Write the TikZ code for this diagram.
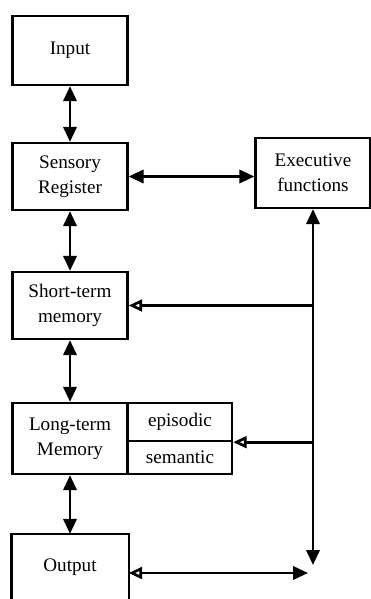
\documentclass[tikz,border=0pt]{standalone}
\usepackage{fontspec}
\setmainfont{Liberation Serif}
\usetikzlibrary{positioning, calc, arrows.meta}

\begin{document}
\begin{tikzpicture}[x=0.6pt, y=-0.6pt, font=\fontsize{11.5}{15}\selectfont,
    stage/.style={draw, line width=1.4pt, minimum width=69pt, align=center, inner sep=0pt},
    part/.style={draw, line width=1.4pt, minimum width=62.4pt, inner sep=0pt},
    link/.style={line width=1.6pt, {Triangle[length=9pt,width=8pt]}-{Triangle[length=9pt,width=8pt]}},
    feed/.style={line width=1.6pt, -{Triangle[open,length=8pt,width=7pt]}}]
    \useasboundingbox (0,0) rectangle (371,599);

    % Stages down the left
    \node[stage, minimum height=41.4pt] (in) at (70,50.5) {Input};
    \node[stage, minimum height=40.2pt] (sr) at (70,176.5) {Sensory\\Register};
    \node[stage, minimum height=40.2pt] (stm) at (70,305.5) {Short-term\\memory};
    \node[stage, minimum height=42.6pt] (ltm) at (70,438.5) {Long-term\\Memory};
    \node[part, minimum height=22.8pt] (ep) at (180,422) {episodic};
    \node[part, minimum height=19.8pt] (sem) at (180,457.5) {semantic};
    \node[stage, draw=none, minimum height=38.4pt] (out) at (70,567) {Output};
    \draw[line width=1.4pt] (out.south west) |- (out.north east) -- (out.south east);

    % Executive side
    \node[stage, minimum height=42pt] (ef) at (313,173) {Executive\\functions};
    \coordinate (crn) at (313,573);

    % Arrows
    \draw[link] (in) -- (sr);
    \draw[link] (sr) -- (stm);
    \draw[link] (stm) -- (ltm);
    \draw[link] (ltm) -- (out.north);
    \draw[link] (sr) -- (sr -| ef.west);
    \draw[link] ($(crn)+(0,-8)$) -- (ef.south);
    \draw[line width=1.6pt, {Triangle[open,length=8pt,width=7pt]}-{Triangle[length=9pt,width=8pt]}] (out.east |- crn) -- ($(crn)+(-5,0)$);
    \draw[feed] (ef.south |- stm) -- (stm.east);
    \draw[feed] (ef.south |- ep.south east) -- (ep.south east);
\end{tikzpicture}
\end{document}
